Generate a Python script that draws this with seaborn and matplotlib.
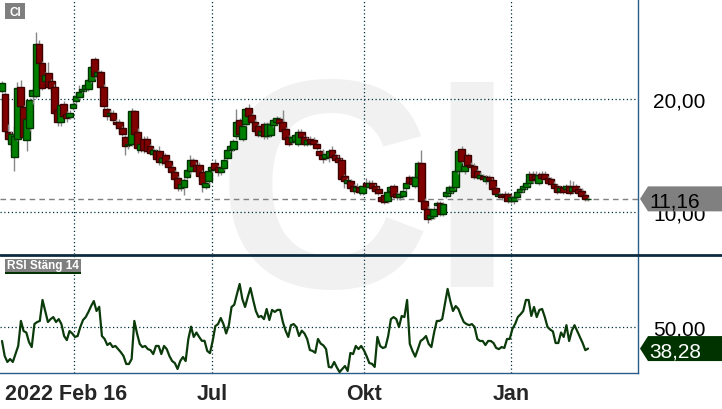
import numpy as np
import pandas as pd
import matplotlib
matplotlib.use("Agg")
import matplotlib.pyplot as plt
import matplotlib.transforms as mtransforms
from matplotlib.patches import Polygon, Rectangle
from matplotlib.lines import Line2D
import seaborn as sns

sns.set_style("white")
plt.rcParams['font.family'] = ['Liberation Sans', 'DejaVu Sans']

# daily candles (open, close, high, low)
candles_feb_apr = [
    (20.7, 21.4, 21.6, 20.5), (20.4, 17.2, 20.6, 17.0), (17.1, 16.5, 17.8, 16.3), (16.0, 16.9, 17.2, 15.4),
    (14.9, 16.7, 17.6, 13.6), (16.5, 21.0, 21.5, 16.3), (21.1, 19.4, 21.7, 19.2), (19.3, 16.6, 19.5, 16.4),
    (16.4, 18.2, 18.5, 15.4), (17.4, 19.9, 20.1, 17.2), (20.3, 20.8, 21.0, 19.6), (20.3, 24.9, 25.9, 20.1),
    (24.9, 23.2, 25.2, 23.0), (23.2, 21.0, 23.4, 20.8), (21.6, 22.1, 22.4, 21.4), (22.3, 21.1, 23.3, 20.9),
    (21.6, 21.0, 21.8, 20.6), (21.1, 18.8, 21.3, 18.5), (19.0, 18.0, 19.2, 17.6), (18.0, 19.5, 19.6, 17.6),
    (19.6, 18.5, 19.8, 18.3), (18.7, 18.3, 18.9, 18.0), (18.4, 18.8, 19.0, 18.2), (19.2, 19.6, 19.8, 19.0),
    (19.8, 20.3, 20.6, 19.6), (20.2, 20.6, 21.2, 20.0), (20.7, 20.9, 21.1, 20.5), (20.9, 21.2, 21.4, 20.7),
    (20.9, 21.7, 21.9, 20.7), (21.6, 22.8, 23.0, 21.4), (23.5, 22.0, 23.7, 21.8), (22.0, 22.4, 22.6, 21.8),
    (22.4, 21.1, 22.6, 20.9), (21.1, 19.4, 21.3, 19.0), (19.1, 18.5, 19.3, 18.1), (18.6, 18.8, 19.0, 18.4),
    (18.8, 18.1, 19.0, 17.9), (18.0, 17.8, 18.2, 17.3), (18.0, 17.4, 18.2, 17.0), (17.4, 16.9, 17.6, 16.7),
    (16.6, 15.8, 16.8, 15.0), (15.9, 16.0, 16.2, 15.6), (16.0, 18.9, 19.2, 15.8), (18.9, 16.9, 19.0, 16.4),
    (17.1, 15.7, 17.4, 15.2), (15.5, 16.0, 16.2, 15.3), (16.5, 15.5, 16.7, 15.2),
]
candles_may_aug = [
    (16.5, 15.4, 16.7, 15.2), (15.8, 15.2, 16.0, 15.0), (15.1, 15.5, 15.7, 14.9), (15.4, 14.7, 15.6, 14.5),
    (15.4, 14.4, 15.8, 14.2), (14.4, 14.8, 15.0, 14.2), (15.0, 14.3, 15.2, 14.0), (14.5, 14.0, 14.7, 13.8),
    (14.0, 13.5, 14.2, 13.3), (13.5, 12.9, 13.7, 12.7), (13.0, 12.1, 13.2, 11.9), (12.1, 12.5, 12.7, 11.9),
    (12.2, 12.8, 13.0, 11.5), (13.1, 13.7, 13.9, 12.9), (13.6, 14.6, 15.0, 13.4), (14.6, 14.1, 14.8, 13.9),
    (14.2, 13.6, 14.4, 13.4), (14.2, 13.2, 14.4, 12.8), (13.5, 12.5, 13.7, 11.8), (12.2, 12.6, 12.8, 12.0),
    (12.7, 13.6, 13.8, 12.5), (13.7, 14.0, 14.3, 13.5), (14.3, 13.8, 14.7, 13.6), (14.0, 13.5, 14.2, 13.2),
    (13.5, 13.9, 14.1, 13.3), (13.9, 14.6, 14.8, 13.7), (14.8, 15.5, 15.7, 14.6), (15.5, 15.8, 16.0, 15.3),
    (15.6, 16.3, 16.5, 15.4), (16.7, 18.0, 19.1, 16.5), (18.1, 16.9, 18.3, 16.6), (16.5, 17.6, 17.8, 16.3),
    (17.8, 19.1, 19.3, 17.6), (19.2, 18.5, 19.6, 18.3), (18.6, 18.0, 18.8, 17.8), (18.0, 17.2, 18.2, 17.0),
    (17.6, 16.8, 17.8, 16.6), (16.8, 17.2, 17.4, 16.6), (17.8, 16.7, 18.0, 16.5), (16.7, 17.8, 18.0, 16.5),
    (16.8, 17.8, 18.0, 16.6), (17.7, 18.1, 18.3, 17.5), (18.0, 18.3, 18.5, 17.8), (18.2, 17.9, 18.4, 17.7),
    (18.0, 17.2, 19.0, 17.0), (17.3, 16.5, 17.5, 16.3), (16.6, 16.0, 16.8, 15.8), (16.2, 16.6, 16.8, 16.0),
    (16.3, 16.8, 17.0, 16.1),
]
candles_aug_nov = [
    (16.0, 17.1, 17.3, 15.8), (17.1, 16.6, 17.3, 16.4), (16.6, 16.0, 16.8, 15.8), (16.0, 16.4, 16.6, 15.8),
    (16.5, 16.1, 16.7, 15.9), (16.4, 16.0, 16.6, 15.8), (16.0, 15.7, 16.2, 15.5), (15.4, 15.0, 15.6, 14.8),
    (15.0, 14.7, 15.6, 14.3), (14.8, 15.1, 15.3, 14.6), (14.9, 15.4, 15.6, 14.4), (15.5, 14.9, 15.8, 14.7),
    (15.0, 14.6, 15.2, 14.4), (14.8, 14.4, 15.0, 14.2), (14.6, 12.9, 14.8, 12.7), (13.2, 12.7, 13.4, 12.1),
    (12.6, 12.8, 13.0, 12.4), (12.7, 12.1, 12.9, 11.9), (12.3, 11.9, 12.5, 11.6), (11.9, 12.2, 12.6, 11.7),
    (12.2, 11.8, 12.4, 11.5), (11.7, 12.3, 12.5, 11.5), (12.6, 12.3, 13.0, 12.1), (12.2, 12.6, 12.8, 12.0),
    (12.6, 12.1, 12.8, 11.9), (12.3, 11.9, 12.5, 11.6), (12.0, 11.7, 12.2, 11.5), (11.3, 11.0, 11.5, 10.8),
    (11.5, 10.9, 11.7, 10.7), (11.0, 11.8, 12.0, 10.8), (11.9, 12.2, 12.4, 11.7), (12.3, 11.4, 12.5, 11.2),
    (11.6, 11.3, 11.8, 11.1), (11.3, 11.6, 11.8, 11.1), (11.4, 11.9, 12.1, 11.2), (12.1, 12.6, 12.8, 11.9),
    (13.1, 12.6, 13.3, 12.4), (13.0, 12.5, 13.2, 12.3), (12.3, 13.1, 13.4, 12.1), (13.1, 14.3, 14.5, 12.9),
    (14.3, 11.0, 15.5, 10.8), (11.0, 10.3, 11.2, 10.1), (10.3, 9.4, 10.5, 9.0), (9.5, 9.7, 9.9, 9.3),
    (9.6, 10.3, 10.5, 9.4), (10.6, 10.8, 11.0, 10.4), (10.8, 9.8, 11.0, 9.6), (9.8, 10.7, 10.9, 9.6),
    (11.4, 11.8, 12.1, 11.2), (11.7, 12.2, 12.4, 11.5),
]
candles_nov_feb = [
    (11.9, 12.2, 12.4, 11.7), (12.2, 13.6, 13.8, 12.0), (13.6, 15.4, 15.6, 13.4), (15.6, 14.5, 15.8, 14.3),
    (13.6, 14.1, 14.3, 13.4), (15.0, 14.2, 15.2, 14.0), (14.2, 14.0, 14.4, 13.8), (14.1, 13.1, 14.3, 12.9),
    (13.6, 13.1, 13.8, 12.9), (13.0, 13.3, 13.5, 12.8), (13.2, 12.9, 13.4, 12.7), (12.7, 13.1, 13.3, 12.5),
    (13.1, 12.8, 13.3, 12.6), (12.8, 12.0, 13.0, 11.8), (12.1, 11.6, 12.3, 11.4), (11.4, 11.6, 11.8, 11.2),
    (11.5, 11.3, 11.7, 11.1), (11.6, 11.4, 11.9, 11.2), (11.6, 11.0, 11.8, 10.8), (11.0, 11.3, 11.5, 10.8),
    (10.95, 11.3, 11.5, 10.7), (11.3, 11.8, 12.0, 11.1), (11.8, 12.0, 12.2, 11.6), (12.0, 12.3, 12.5, 11.8),
    (12.2, 12.6, 12.8, 12.0), (12.6, 13.4, 13.6, 12.4), (13.4, 12.8, 13.6, 12.6), (13.3, 12.9, 13.6, 12.7),
    (12.6, 13.3, 13.5, 12.4), (13.4, 13.0, 13.6, 12.8), (13.4, 12.9, 13.6, 12.7), (13.0, 12.6, 13.2, 12.4),
    (12.9, 12.5, 13.1, 12.3), (12.5, 12.1, 12.7, 11.9), (12.3, 11.8, 12.5, 11.6), (11.9, 12.1, 12.3, 11.7),
    (12.2, 11.8, 12.4, 11.6), (12.0, 12.3, 12.5, 11.8), (12.3, 11.7, 12.8, 11.5), (11.9, 12.2, 12.7, 11.7),
    (12.3, 11.9, 12.5, 11.7), (12.0, 11.7, 12.2, 11.5), (11.9, 11.4, 12.1, 11.2), (11.5, 11.16, 11.7, 11.0),
    (11.12, 11.16, 11.3, 11.0),
]

# RSI (close, 14)
rsi_first_half = [
    42.4, 34.2, 31.0, 32.6, 31.0, 35.3, 39.7, 53.3, 47.8, 47.0,
    41.8, 39.1, 51.6, 52.7, 53.3, 64.7, 58.7, 52.7, 54.3, 55.4,
    52.7, 54.3, 51.6, 45.1, 42.9, 47.8, 46.5, 44.6, 45.1, 50.0,
    53.8, 55.4, 58.2, 61.4, 64.1, 58.7, 61.0, 45.1, 43.5, 40.2,
    41.3, 39.1, 39.7, 38.0, 36.3, 34.2, 29.9, 29.9, 32.6, 53.3,
    46.5, 40.8, 39.1, 39.7, 38.0, 37.4, 35.3, 39.7, 39.7, 35.3,
    39.7, 38.0, 34.2, 31.5, 30.4, 27.2, 31.5, 33.7, 31.5, 43.5,
    50.2, 44.6, 47.0, 44.6, 42.5, 42.5, 37.0, 35.8, 42.4, 50.5,
    51.6, 54.9, 51.6, 46.5, 51.0, 60.9, 62.1, 67.9, 73.4, 65.2,
    60.9, 66.3, 71.2, 64.7, 58.7, 55.4, 56.0, 54.3, 59.8, 53.8,
    59.3, 58.2, 59.3, 59.3, 52.7, 48.0, 44.6, 51.0, 51.6, 50.0,
    45.1, 48.0, 46.5, 43.5, 37.5,
]
rsi_second_half = [
    37.0, 36.0, 43.5, 41.0, 40.0, 38.0, 28.3, 28.0, 31.0, 28.0,
    25.5, 27.2, 28.8, 26.1, 35.9, 35.3, 39.7, 38.0, 39.7, 37.4,
    34.2, 30.4, 30.0, 28.3, 44.6, 39.7, 38.6, 39.1, 45.1, 54.3,
    55.4, 54.3, 50.0, 56.0, 55.4, 64.7, 40.8, 37.0, 33.9, 38.0,
    42.4, 43.5, 45.1, 40.8, 39.1, 47.0, 53.3, 53.3, 54.3, 62.5,
    70.7, 64.1, 58.7, 61.4, 59.8, 56.0, 52.7, 51.6, 51.0, 51.6,
    50.0, 43.5, 42.4, 42.4, 40.2, 42.4, 42.4, 41.3, 38.6, 38.0,
    39.1, 38.6, 43.5, 43.5, 49.0, 51.6, 55.4, 56.9, 58.7, 64.7,
    64.7, 56.0, 60.9, 55.4, 59.3, 59.8, 55.4, 50.0, 48.6, 47.6,
    41.3, 41.3, 47.0, 44.6, 51.0, 42.4, 48.0, 51.0, 47.8, 44.6,
    41.3, 37.4, 38.28,
]

last_close = 11.16
last_rsi = 38.28
price_ticks = [10, 20]
rsi_ticks = [50]
month_pos = [23.3, 68.1, 117.4, 165.0]
month_labels = ['2022 Feb 16', 'Jul', 'Okt', 'Jan']

df = pd.DataFrame(candles_feb_apr + candles_may_aug + candles_aug_nov + candles_nov_feb,
                  columns=['open', 'close', 'high', 'low'])
df['x'] = np.arange(len(df))
rsi = pd.DataFrame({'rsi': rsi_first_half + rsi_second_half})
rsi['x'] = np.linspace(0, len(df) - 1, len(rsi))

W, H = 722, 410
fig = plt.figure(figsize=(W / 100, H / 100), dpi=100)
ax = fig.add_axes([0, 1 - 255 / H, 638 / W, 255 / H])
ax2 = fig.add_axes([0, 1 - 374 / H, 638 / W, 117 / H])
for a in (ax, ax2):
    a.set_facecolor('none')

frame = '#2b5d8a'
grid_kw = dict(color='#00303f', linestyle=(0, (1, 2)), linewidth=0.9)

# candles
for r in df.itertuples():
    up = r.close >= r.open
    ax.vlines(r.x, r.low, r.high, color='#888888', lw=1, zorder=2)
    ax.bar(r.x, max(abs(r.close - r.open), 0.06), bottom=min(r.open, r.close), width=2.2,
           color='#008000' if up else '#800000', edgecolor='#003300' if up else '#3d0000',
           lw=1, zorder=2)
ax.axhline(last_close, color='#808080', linestyle=(0, (4, 3)), lw=1, zorder=1)
ax.set_xlim(-0.65, 206.2)
ax.set_ylim(6.28, 28.85)

# RSI
sns.lineplot(data=rsi, x='x', y='rsi', ax=ax2, color='#0b3a0b', lw=1.6, zorder=3)
ax2.set_xlim(-0.65, 206.2)
ax2.set_ylim(25, 88.6)

for a, ticks in ((ax, price_ticks), (ax2, rsi_ticks)):
    a.set_yticks(ticks)
    a.set_yticklabels([f'{t:.2f}'.replace('.', ',') for t in ticks])
    a.yaxis.tick_right()
    a.tick_params(axis='y', length=0, pad=11, labelsize=15, labelcolor='black')
    a.set_xticks(month_pos)
    a.grid(True, **grid_kw)
    a.set_xlabel('')
    a.set_ylabel('')
    for s in ('top', 'left'):
        a.spines[s].set_visible(False)
    a.spines['right'].set_color(frame)
    a.spines['right'].set_linewidth(1)

ax.spines['bottom'].set_visible(False)
ax.tick_params(axis='x', length=0, labelbottom=False)
ax2.spines['bottom'].set_color(frame)
ax2.spines['bottom'].set_linewidth(1)
ax2.set_xticklabels(month_labels)
ax2.tick_params(axis='x', length=6, width=1, color=frame, pad=1, labelsize=15.5)
for lab in ax2.get_xticklabels():
    lab.set_fontweight('bold')
# the start-date label sits a little left of its tick
first = ax2.get_xticklabels()[0]
first.set_transform(first.get_transform() + mtransforms.ScaledTranslation(-8 / 100, 0, fig.dpi_scale_trans))

# divider between panels
fig.add_artist(Line2D([0, 1], [1 - 255.5 / H] * 2, transform=fig.transFigure, color='#0c2b40', lw=2))

# watermark
fig.text(217 / W, 1 - 287 / H, 'CI', fontsize=214, fontweight='bold', color='#f1f1f1',
         ha='left', va='baseline', zorder=-1)

# panel titles
fig.add_artist(Rectangle((5 / W, 1 - 20 / H), 20 / W, 16 / H, transform=fig.transFigure, fc='#7f7f7f', ec='none'))
fig.text(15 / W, 1 - 12.5 / H, 'CI', color='white', fontsize=8.5, fontweight='bold', ha='center', va='center')
fig.add_artist(Rectangle((5 / W, 1 - 273 / H), 76 / W, 13 / H, transform=fig.transFigure, fc='#7f7f7f', ec='none'))
fig.add_artist(Rectangle((5 / W, 1 - 275 / H), 76 / W, 2 / H, transform=fig.transFigure, fc='#003300', ec='none'))
fig.text(43 / W, 1 - 266.5 / H, 'RSI Stäng 14', color='white', fontsize=8.5, fontweight='bold', ha='center', va='center')

# last value tags
def tag(axis, value, half, fc, tc):
    tr = mtransforms.blended_transform_factory(fig.transFigure, axis.transData)
    pts = [(640 / W, value), (648 / W, value + half), (1, value + half), (1, value - half), (648 / W, value - half)]
    fig.add_artist(Polygon(pts, closed=True, transform=tr, fc=fc, ec='none', zorder=2))
    fig.text(649 / W, value, f'{value:.2f}'.replace('.', ','), transform=tr, color=tc,
             fontsize=15, ha='left', va='center_baseline', zorder=3)

tag(ax, last_close, 12.5 / 11.3, '#808080', 'black')
tag(ax2, last_rsi, 12.5 / 1.84, '#003300', 'white')

fig.savefig('out.png', dpi=100)
